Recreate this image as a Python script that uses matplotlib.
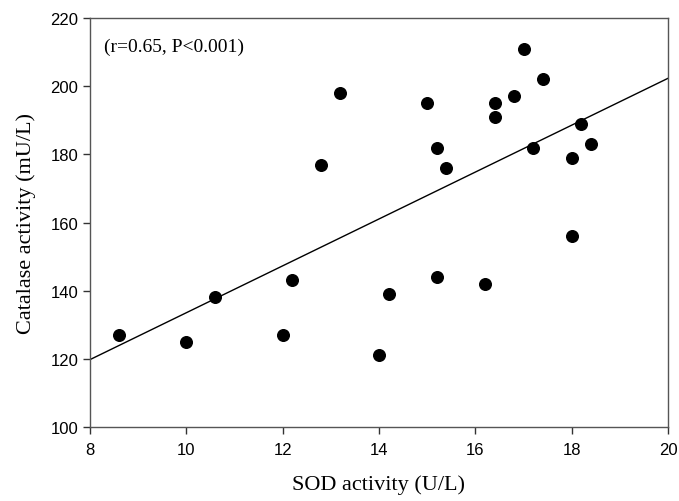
import numpy as np
import matplotlib
matplotlib.use("Agg")
import matplotlib.pyplot as plt

sod = [8.6, 10.0, 10.6, 12.0, 12.2, 12.8, 13.2, 14.0, 14.2, 15.0, 15.2, 15.2,
       15.4, 16.2, 16.4, 16.4, 16.8, 17.0, 17.2, 17.4, 18.0, 18.0, 18.2, 18.4]
catalase = [127, 125, 138, 127, 143, 177, 198, 121, 139, 195, 182, 144,
            176, 142, 195, 191, 197, 211, 182, 202, 179, 156, 189, 183]
x_ticks = [8, 10, 12, 14, 16, 18, 20]
y_ticks = [100, 120, 140, 160, 180, 200, 220]
annotation = "(r=0.65, P<0.001)"

fig = plt.figure(figsize=(6.79, 5.02), dpi=100)
ax = fig.add_axes([90/679, 1-428/502, (668-90)/679, (428-19)/502])

ax.scatter(sod, catalase, s=70, color="black", zorder=3)
slope, intercept = np.polyfit(sod, catalase, 1)
xl = np.array([8, 20])
ax.plot(xl, intercept + slope*xl, color="black", lw=1.0)

ax.set_xlim(8, 20)
ax.set_ylim(100, 220)
ax.set_xticks(x_ticks)
ax.set_yticks(y_ticks)
ax.tick_params(direction="out", length=5, width=1, labelsize=12, colors="#333333")
ax.tick_params(axis="x", pad=6)
for lab in ax.get_xticklabels() + ax.get_yticklabels():
    lab.set_family("Liberation Sans")
    lab.set_color("black")
for sp in ax.spines.values():
    sp.set_color("#555555")
    sp.set_linewidth(1)
ax.set_xlabel("SOD activity (U/L)", family="Liberation Serif", fontsize=16, labelpad=12)
ax.set_ylabel("Catalase activity (mU/L)", family="Liberation Serif", fontsize=16, labelpad=10)
ax.text(0.025, 0.93, annotation, transform=ax.transAxes, family="Liberation Serif",
        fontsize=14, va="center", ha="left")

fig.savefig("out.png", dpi=100)
